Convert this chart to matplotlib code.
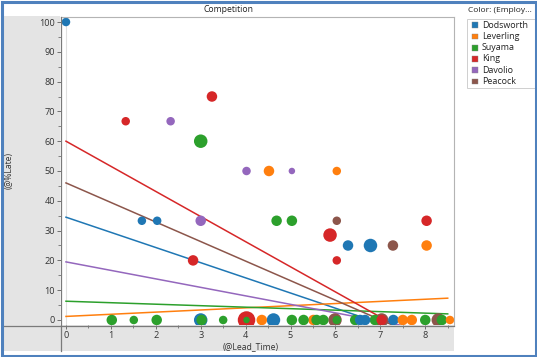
import numpy as np
import matplotlib
matplotlib.use("Agg")
import matplotlib.pyplot as plt
from matplotlib.patches import Rectangle
from matplotlib.lines import Line2D

plt.rcParams['font.family'] = ['Open Sans', 'DejaVu Sans']

# --- data ---
employees = ['Dodsworth', 'Leverling', 'Suyama', 'King', 'Davolio', 'Peacock']
colors = ['#1f77b4', '#ff7f0e', '#2ca02c', '#d62728', '#9467bd', '#8c564b']

dodsworth_lead = [0.0, 1.69, 2.03, 6.28, 6.78, 3.0, 4.62, 6.55, 6.66, 7.29]
dodsworth_late = [100, 33.3, 33.3, 25, 25, 0, 0, 0, 0, 0]
dodsworth_size = [2, 2, 2, 3, 4, 4, 4, 3, 3, 3]

leverling_lead = [4.52, 6.03, 8.03, 4.36, 5.51, 7.5, 7.7, 8.55]
leverling_late = [50, 50, 25, 0, 0, 0, 0, 0]
leverling_size = [3, 2, 3, 3, 3, 3, 3, 2]

suyama_lead = [3.0, 4.69, 5.03, 1.02, 1.51, 2.02, 3.02, 3.5, 4.02, 5.03,
               5.29, 5.58, 5.73, 6.03, 6.44, 6.88, 8.0, 8.37]
suyama_late = [60, 33.3, 33.3, 0, 0, 0, 0, 0, 0, 0,
               0, 0, 0, 0, 0, 0, 0, 0]
suyama_size = [4, 3, 3, 3, 2, 3, 3, 2, 1, 3,
               3, 3, 3, 2, 3, 3, 3, 3]

king_lead = [1.33, 3.25, 2.83, 5.88, 6.03, 8.03, 4.02, 7.03]
king_late = [66.7, 75, 20, 28.5, 20, 33.3, 0, 0]
king_size = [2, 3, 3, 4, 2, 3, 5, 3]

davolio_lead = [2.33, 4.02, 5.03, 3.0]
davolio_late = [66.7, 50, 50, 33.3]
davolio_size = [2, 2, 1, 3]

peacock_lead = [6.03, 7.28, 5.99, 7.03, 8.29]
peacock_late = [33.3, 25, 0, 0, 0]
peacock_size = [2, 3, 4, 4, 4]

# trend lines (intercept, slope) per employee
fit_intercept = [34.5, 1.2, 6.3, 60.0, 19.5, 46.0]
fit_slope = [-5.09, 0.72, -0.5, -8.43, -2.85, -6.56]

series_lead = [dodsworth_lead, leverling_lead, suyama_lead, king_lead, davolio_lead, peacock_lead]
series_late = [dodsworth_late, leverling_late, suyama_late, king_late, davolio_late, peacock_late]
series_size = [dodsworth_size, leverling_size, suyama_size, king_size, davolio_size, peacock_size]

# --- layout helpers (pixel coords of the 537x357 picture) ---
W, H = 537, 357


def fx(px):
    return px / W


def fy(py):
    return 1 - py / H


def box(x0, y0, x1, y1, **kw):
    fig.add_artist(Rectangle((fx(x0), fy(y1)), fx(x1) - fx(x0), fy(y0) - fy(y1),
                             transform=fig.transFigure, **kw))


fig = plt.figure(figsize=(W / 100, H / 100), dpi=100)
fig.patch.set_facecolor('white')

# gray bands around the plot
box(3, 16, 60, 351, facecolor='#e4e4e4', edgecolor='none', zorder=-5)
box(60, 325, 454, 351, facecolor='#e4e4e4', edgecolor='none', zorder=-5)

ax = fig.add_axes([fx(61), fy(325), fx(454) - fx(61), fy(17) - fy(325)])
ax.set_xlim(-0.111, 8.64)
ax.set_ylim(-1.68, 101.68)

for s in ['top', 'right']:
    ax.spines[s].set_color('#b4b4b4')
    ax.spines[s].set_linewidth(0.8)
for s in ['left', 'bottom']:
    ax.spines[s].set_visible(False)

ax.set_xticks(range(0, 9))
ax.set_xticks(np.arange(0, 8.6, 0.5), minor=True)
ax.set_yticks(range(0, 101, 10))
ax.set_yticks(range(0, 101, 5), minor=True)
ax.tick_params(which='major', length=3, width=0.7, color='#707070',
               labelsize=6.6, labelcolor='#333333', pad=1.2)
ax.tick_params(which='minor', length=2, width=0.6, color='#707070')

ax.axvline(0, color='#e0e0e0', lw=0.8, zorder=0)

# trend lines
xs = np.array([0, 8.5])
for b, m, c in zip(fit_intercept, fit_slope, colors):
    ax.plot(xs, b + m * xs, color=c, lw=1.1, zorder=1)

# markers, bigger ones behind smaller ones
diam = {1: 6.5, 2: 8.5, 3: 10.5, 4: 13.5, 5: 17.5}
px_, py_, pc, ps = [], [], [], []
for lead, late, size, c in zip(series_lead, series_late, series_size, colors):
    for x, y, w in zip(lead, late, size):
        px_.append(x)
        py_.append(y)
        pc.append(c)
        ps.append((diam[w] * 0.72) ** 2)
order = np.argsort(ps)[::-1]
ax.scatter(np.array(px_)[order], np.array(py_)[order], s=np.array(ps)[order],
           c=[pc[i] for i in order], edgecolors='none', zorder=2)

# axis lines reaching into the gray bands
fig.add_artist(Line2D([fx(60.5), fx(60.5)], [fy(17), fy(351)], transform=fig.transFigure,
                      color='#7a7a7a', lw=0.9))
fig.add_artist(Line2D([fx(3), fx(454)], [fy(325.5), fy(325.5)], transform=fig.transFigure,
                      color='#7a7a7a', lw=0.9))

# texts
fig.text(fx(228), fy(9), 'Competition', ha='center', va='center', fontsize=6.2, color='#222222')
fig.text(fx(9), fy(170), '(@%Late)', rotation=90, ha='center', va='center', fontsize=6.2, color='#333333')
fig.text(fx(251), fy(346.5), '(@Lead_Time)', ha='center', va='center', fontsize=6.2, color='#333333')

# legend
fig.text(fx(468.5), fy(10.5), 'Color: (Employ...', ha='left', va='center', fontsize=6.0, color='#222222')
box(466.5, 19, 545, 87.5, facecolor='white', edgecolor='#cfcfcf', lw=0.7, zorder=1)
for i, (name, c) in enumerate(zip(employees, colors)):
    yc = 25.3 + 11.2 * i
    box(471.7, yc - 2.8, 477.5, yc + 2.8, facecolor=c, edgecolor='#888888', lw=0.3, zorder=2)
    fig.text(fx(482), fy(yc), name, ha='left', va='center', fontsize=6.4, color='#222222', zorder=3)

# outer blue frame
box(1.5, 1.5, 535.5, 355.5, facecolor='none', edgecolor='#4f81bd', lw=2.2, zorder=10)

fig.savefig('out.png', dpi=100)
